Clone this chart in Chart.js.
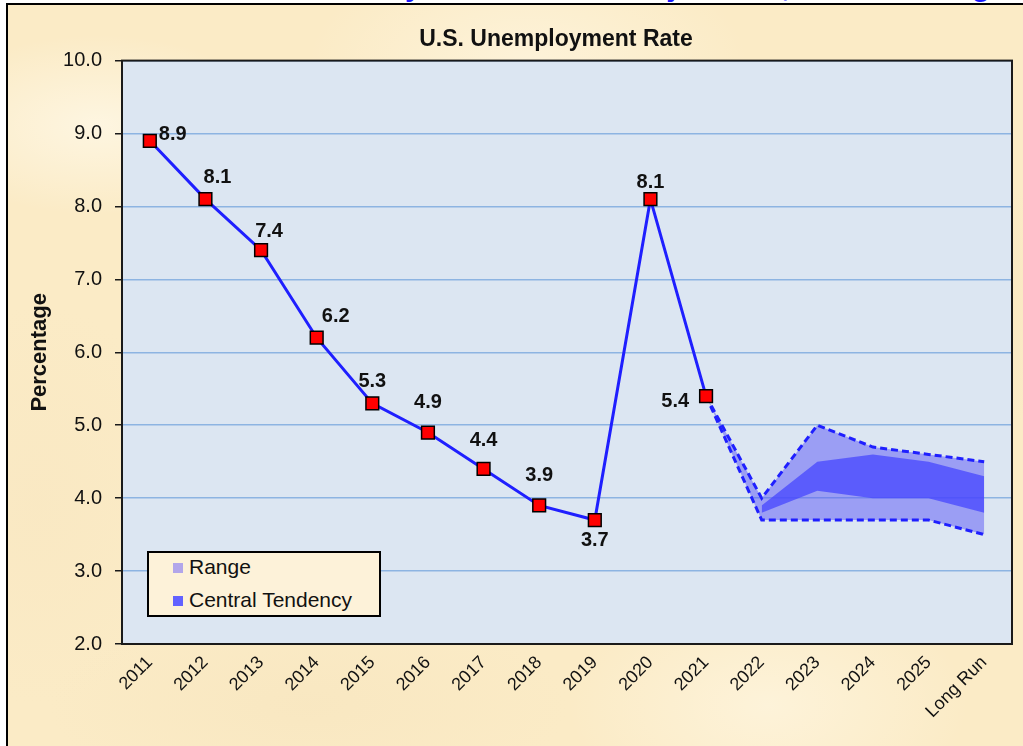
<!DOCTYPE html>
<html>
<head>
<meta charset="utf-8">
<title>U.S. Unemployment Rate</title>
<script src="https://cdn.jsdelivr.net/npm/chart.js@4.4.1/dist/chart.umd.min.js"></script>
<style>
  html, body { margin: 0; padding: 0; background: #fff; overflow: hidden; }
  body { width: 1023px; height: 746px; position: relative; font-family: 'Liberation Sans', Arial, sans-serif; }
  #heading {
    position: absolute; left: 0; top: -29px; width: 990px; text-align: right;
    font: bold 30px/30px 'Liberation Sans', Arial, sans-serif; color: #1a1aff; white-space: nowrap;
  }
  #frame {
    position: absolute; left: 6px; top: 3px; width: 1040px; height: 770px;
    border: 2px solid #000;
    background-color: #fbebc6;
    background-image:
      radial-gradient(ellipse 180px 90px at 90px 120px, rgba(255,250,236,0.7), transparent),
      radial-gradient(ellipse 220px 120px at 520px 60px, rgba(255,248,230,0.6), transparent),
      radial-gradient(ellipse 200px 140px at 900px 300px, rgba(246,226,186,0.5), transparent),
      radial-gradient(ellipse 260px 100px at 300px 700px, rgba(247,229,190,0.6), transparent),
      radial-gradient(ellipse 200px 120px at 760px 700px, rgba(255,248,230,0.6), transparent),
      radial-gradient(ellipse 150px 200px at 30px 500px, rgba(248,230,192,0.5), transparent);
  }
  #chartBox { position: absolute; left: 8px; top: 5px; width: 1015px; height: 741px; }
  #legendBox {
    position: absolute; left: 147px; top: 551px; width: 234px; height: 66px; box-sizing: border-box;
    border: 2px solid #000; background: #fdf2d9;
    font-size: 21px; color: #111;
  }
  .item { position: absolute; left: 24px; height: 24px; line-height: 24px; white-space: nowrap; }
  .swatch { display: inline-block; width: 10px; height: 10px; margin-right: 6px; vertical-align: 1px; }
</style>
</head>
<body>
<div id="heading">Summary of Economic Projections, June Meeting</div>
<div id="frame"></div>
<div id="chartBox"><canvas id="rateChart"></canvas></div>
<div id="legendBox">
  <div class="item" style="top: 2px;"><span class="swatch" style="background:#b2a6ea;"></span>Range</div>
  <div class="item" style="top: 35px;"><span class="swatch" style="background:#6262ff;"></span>Central Tendency</div>
</div>
<script>
'use strict';

const years = ['2011', '2012', '2013', '2014', '2015', '2016', '2017', '2018',
  '2019', '2020', '2021', '2022', '2023', '2024', '2025', 'Long Run'];

const actualRate = [8.9, 8.1, 7.4, 6.2, 5.3, 4.9, 4.4, 3.9, 3.7, 8.1, 5.4,
  null, null, null, null, null];

const rangeHigh = [null, null, null, null, null, null, null, null, null, null,
  5.4, 4.0, 5.0, 4.7, 4.6, 4.5];
const rangeLow = [null, null, null, null, null, null, null, null, null, null,
  5.4, 3.7, 3.7, 3.7, 3.7, 3.5];

const centralHigh = [null, null, null, null, null, null, null, null, null, null,
  null, 3.9, 4.5, 4.6, 4.5, 4.3];
const centralLow = [null, null, null, null, null, null, null, null, null, null,
  null, 3.8, 4.1, 4.0, 4.0, 3.8];

const yTicks = [2, 3, 4, 5, 6, 7, 8, 9, 10];

// where each value label sits relative to its marker
const labelOffsets = [
  { dx: 9, dy: -6, align: 'left' },
  { dx: 12, dy: -22, align: 'center' },
  { dx: 8, dy: -19, align: 'center' },
  { dx: 19, dy: -21, align: 'center' },
  { dx: 0, dy: -22, align: 'center' },
  { dx: 0, dy: -30, align: 'center' },
  { dx: 0, dy: -28, align: 'center' },
  { dx: 0, dy: -30, align: 'center' },
  { dx: 0, dy: 20, align: 'center' },
  { dx: 0, dy: -17, align: 'center' },
  { dx: -17, dy: 5, align: 'right' },
];

const FONT = "'Liberation Sans', Arial, sans-serif";

const plotFrame = {
  id: 'plotFrame',
  beforeDraw(chart) {
    const { ctx, chartArea: a } = chart;
    ctx.save();
    ctx.fillStyle = '#dce6f2';
    ctx.fillRect(a.left, a.top, a.width, a.height);
    ctx.restore();
  },
  afterDraw(chart) {
    const { ctx, chartArea: a } = chart;
    ctx.save();
    ctx.strokeStyle = '#1a1a1a';
    ctx.lineWidth = 2;
    ctx.strokeRect(a.left, a.top, a.width, a.height);
    ctx.restore();
  },
};

// nudge the title a little left of the plot centre, as in the original
const titleShift = {
  id: 'titleShift',
  afterLayout(chart) {
    if (chart.titleBlock) chart.titleBlock.left -= 22;
  },
};

const valueLabels = {
  id: 'valueLabels',
  afterDatasetsDraw(chart) {
    const ctx = chart.ctx;
    const meta = chart.getDatasetMeta(0);
    ctx.save();
    ctx.font = 'bold 20px ' + FONT;
    ctx.fillStyle = '#111';
    ctx.textBaseline = 'middle';
    meta.data.forEach((pt, i) => {
      const v = actualRate[i];
      if (v == null) return;
      const off = labelOffsets[i];
      ctx.textAlign = off.align;
      ctx.fillText(v.toFixed(1), pt.x + off.dx, pt.y + off.dy);
    });
    ctx.restore();
  },
};

const dashed = [7, 4];

const config = {
  type: 'line',
  data: {
    labels: years,
    datasets: [
      {
        label: 'Unemployment rate',
        data: actualRate,
        borderColor: '#1f1fff',
        borderWidth: 3,
        pointStyle: 'rect',
        pointRadius: 9,
        pointHoverRadius: 9,
        pointBackgroundColor: '#ff0000',
        pointBorderColor: '#000',
        pointBorderWidth: 1.5,
        fill: false,
      },
      {
        label: 'Central Tendency',
        data: centralHigh,
        borderWidth: 0,
        borderColor: 'rgba(0,0,0,0)',
        backgroundColor: 'rgba(70,70,255,0.75)',
        pointRadius: 0,
        fill: '+1',
      },
      {
        label: 'Central Tendency low',
        data: centralLow,
        borderWidth: 0,
        borderColor: 'rgba(0,0,0,0)',
        pointRadius: 0,
        fill: false,
      },
      {
        label: 'Range',
        data: rangeHigh,
        borderColor: '#1f1fff',
        borderWidth: 3,
        borderDash: dashed,
        backgroundColor: 'rgba(90,85,245,0.5)',
        pointRadius: 0,
        fill: '+1',
      },
      {
        label: 'Range low',
        data: rangeLow,
        borderColor: '#1f1fff',
        borderWidth: 3,
        borderDash: dashed,
        pointRadius: 0,
        fill: false,
      },
    ],
  },
  options: {
    responsive: true,
    maintainAspectRatio: false,
    animation: false,
    layout: { padding: { left: 10, right: 11, top: 0, bottom: 0 } },
    plugins: {
      legend: { display: false },
      tooltip: { enabled: false },
      filler: { drawTime: 'beforeDatasetsDraw' },
      title: {
        display: true,
        text: 'U.S. Unemployment Rate',
        fullSize: false,
        color: '#111',
        font: { family: FONT, size: 23, weight: 'bold' },
        padding: { top: 21, bottom: 7 },
      },
    },
    scales: {
      x: {
        offset: true,
        grid: { display: false, drawTicks: false },
        border: { display: true, color: '#1a1a1a', width: 2 },
        ticks: {
          color: '#111',
          font: { family: FONT, size: 18 },
          maxRotation: 45,
          minRotation: 45,
          autoSkip: false,
          padding: 8,
        },
        afterFit(scale) { scale.height = 102; },
      },
      y: {
        min: 2,
        max: 10,
        afterBuildTicks(scale) { scale.ticks = yTicks.map(v => ({ value: v })); },
        grid: { color: '#8db4e2', lineWidth: 1.5, tickColor: '#1a1a1a', tickLength: 7 },
        border: { display: true, color: '#1a1a1a', width: 2 },
        ticks: {
          color: '#111',
          font: { family: FONT, size: 20 },
          padding: 13,
          callback: v => Number(v).toFixed(1),
        },
        title: {
          display: true,
          text: 'Percentage',
          color: '#111',
          font: { family: FONT, size: 22, weight: 'bold' },
          padding: { top: 9, bottom: 0 },
        },
        afterFit(scale) { scale.width = 104; },
      },
    },
  },
  plugins: [plotFrame, titleShift, valueLabels],
};

const rateChart = new Chart(document.getElementById('rateChart'), config);
</script>
</body>
</html>
